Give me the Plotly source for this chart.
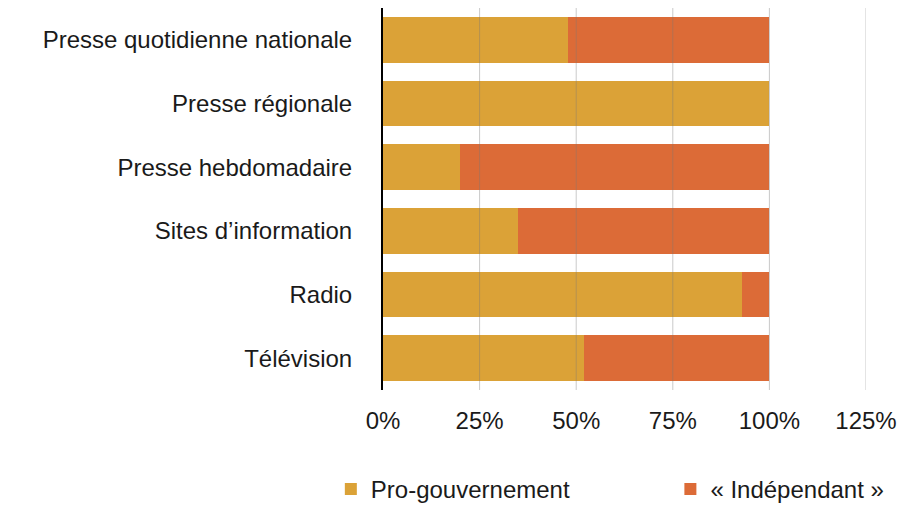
import plotly.graph_objects as go

categories = [
    "Presse quotidienne nationale",
    "Presse régionale",
    "Presse hebdomadaire",
    "Sites d\u2019information",
    "Radio",
    "Télévision",
]
pro_gouv = [0.48, 1.00, 0.20, 0.35, 0.93, 0.52]
independant = [0.52, 0.00, 0.80, 0.65, 0.07, 0.48]
tick_vals = [0, 0.25, 0.5, 0.75, 1.0, 1.25]

gold = "#DBA237"
orange = "#DC6B37"

fig = go.Figure()
fig.add_trace(
    go.Bar(
        y=categories,
        x=pro_gouv,
        orientation="h",
        name="Pro-gouvernement",
        marker=dict(color=gold, line=dict(width=0)),
        legend="legend",
    )
)
fig.add_trace(
    go.Bar(
        y=categories,
        x=independant,
        orientation="h",
        name="\u00ab Indépendant \u00bb",
        marker=dict(color=orange, line=dict(width=0)),
        legend="legend2",
    )
)

# gridlines drawn over the bars, like the original
for v in tick_vals[1:]:
    fig.add_vline(x=v, line=dict(color="rgba(120,120,120,0.4)", width=1), layer="above")

leg = dict(
    orientation="h",
    y=-0.319,
    yanchor="bottom",
    xanchor="left",
    itemwidth=30,
    font=dict(size=24),
    bgcolor="rgba(0,0,0,0)",
)

# page body adds an 8px offset, so the figure is 8px smaller
fig.update_layout(
    barmode="stack",
    bargap=0.28,
    width=898,
    height=504,
    margin=dict(l=375, r=40, t=0, b=122),
    plot_bgcolor="white",
    paper_bgcolor="white",
    font=dict(family="Liberation Sans, Arial", size=24, color="#1a1a1a"),
    showlegend=True,
    legend=dict(leg, x=-0.108),
    legend2=dict(leg, x=0.595),
    xaxis=dict(
        range=[0, 1.25],
        tickvals=tick_vals,
        tickformat=".0%",
        tickfont=dict(size=24),
        showgrid=False,
        zeroline=False,
        showline=False,
        ticks="",
        ticklabelstandoff=14,
        automargin=False,
    ),
    yaxis=dict(
        autorange="reversed",
        showline=True,
        linecolor="black",
        linewidth=2,
        ticks="",
        ticklabelstandoff=24,
        showgrid=False,
        automargin=False,
    ),
)

fig.write_html("out.html")
